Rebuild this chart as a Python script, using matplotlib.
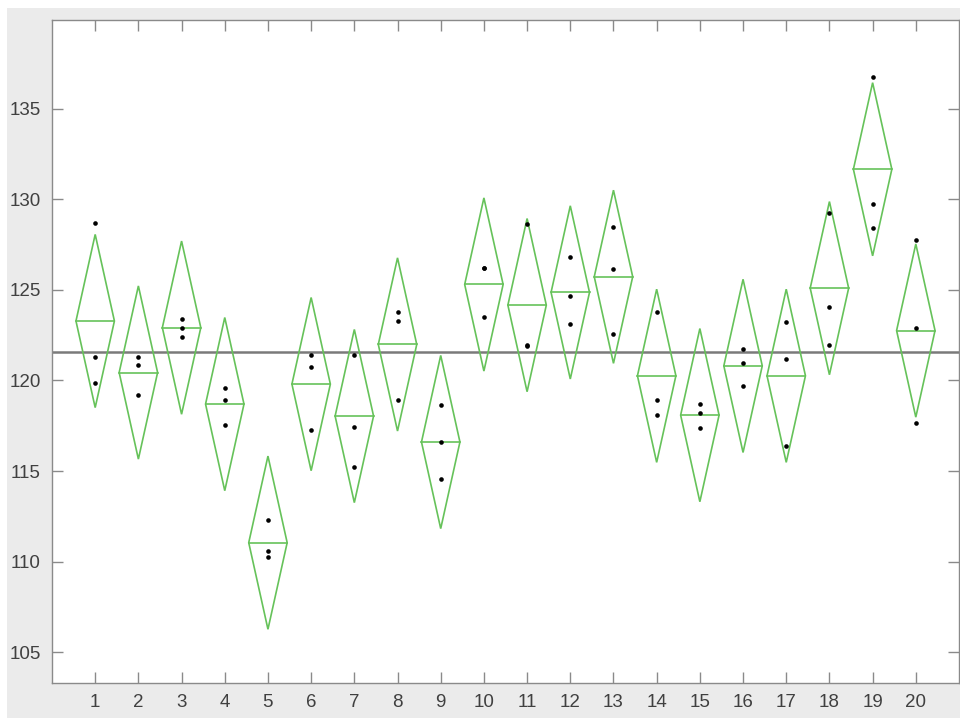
import numpy as np
import matplotlib
matplotlib.use("Agg")
import matplotlib.pyplot as plt
from matplotlib.patches import Rectangle, Polygon

groups = list(range(1, 21))
obs = [
    [128.71, 121.27, 119.87],
    [121.28, 120.83, 119.21],
    [123.42, 122.92, 122.41],
    [119.61, 118.93, 117.55],
    [112.29, 110.60, 110.25],
    [121.39, 120.75, 117.26],
    [121.43, 117.44, 115.24],
    [123.79, 123.27, 118.91],
    [118.64, 116.63, 114.54],
    [126.19, 126.22, 123.49],
    [128.64, 121.95, 121.89],
    [126.80, 124.69, 123.10],
    [128.45, 126.16, 122.57],
    [123.79, 118.92, 118.07],
    [118.71, 118.20, 117.35],
    [121.73, 120.98, 119.71],
    [123.25, 121.17, 116.36],
    [129.26, 124.06, 121.97],
    [136.78, 129.76, 128.44],
    [127.77, 122.87, 117.63],
]
ci_half = 4.78          # pooled confidence half-height of each diamond
diamond_half_width = 0.445
yticks = [105, 110, 115, 120, 125, 130, 135]

green = "#66c25a"
fig = plt.figure(figsize=(9.6, 7.18), dpi=100)
fig.patch.set_facecolor("white")
fig.patches.append(Rectangle((7 / 960, 0), 1 - 7 / 960, (718 - 8) / 718,
                             transform=fig.transFigure, facecolor="#ebebeb",
                             edgecolor="none", zorder=-10))
ax = fig.add_axes([52 / 960, (718 - 683) / 718, (959 - 52) / 960, (683 - 20) / 718])
ax.set_facecolor("white")

means = [np.mean(o) for o in obs]
grand = np.mean(means)

for g, o, m in zip(groups, obs, means):
    w = diamond_half_width
    poly = Polygon([(g - w, m), (g, m + ci_half), (g + w, m), (g, m - ci_half)],
                   closed=True, fill=False, edgecolor=green, linewidth=1.2, zorder=2)
    ax.add_patch(poly)
    ax.plot([g - w, g + w], [m, m], color=green, linewidth=1.2, zorder=2)
    ax.scatter([g] * len(o), o, s=11, color="black", zorder=3, linewidths=0)

ax.axhline(grand, color="#7a7a7a", linewidth=1.8, zorder=1)

ax.set_xlim(0, 21)
ax.set_ylim(103.3, 139.9)
ax.set_xticks(groups)
ax.set_xticklabels([str(g) for g in groups])
ax.set_yticks(yticks)
ax.set_yticklabels([str(t) for t in yticks])

for s in ax.spines.values():
    s.set_color("#8a8a8a")
    s.set_linewidth(1.0)
ax.tick_params(direction="in", length=8, width=1.0, color="#8a8a8a",
               top=True, right=True, labelsize=13.5, labelcolor="#404040",
               pad=8)
for lab in ax.get_xticklabels() + ax.get_yticklabels():
    lab.set_fontfamily("Liberation Sans")

fig.savefig("out.png", dpi=100, facecolor=fig.get_facecolor())
